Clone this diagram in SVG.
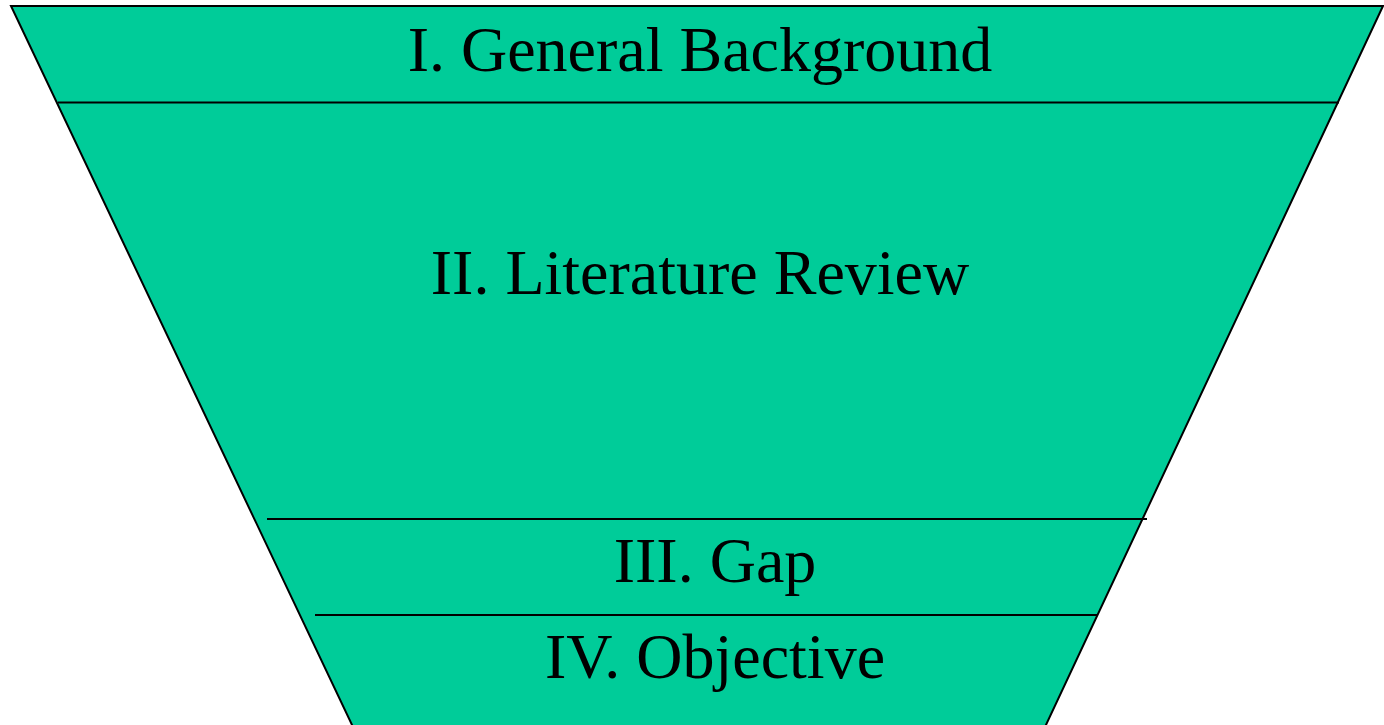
<svg xmlns="http://www.w3.org/2000/svg" width="1384" height="725" viewBox="0 0 1384 725">
<style>
.band{fill:#00CC99;stroke:none}
.edge{fill:none;stroke:#000;stroke-width:2}
.lbl{font-family:"Liberation Serif","Times New Roman",serif;font-size:64px;fill:#000;text-anchor:middle}
</style>
<rect width="1384" height="725" fill="#fff"/>
<g id="funnel">
<polygon class="band" points="11,6 1383,6 1045,727 353,727"/>
</g>
<g id="node-background"><text class="lbl" x="700" y="71">I. General Background</text></g>
<g id="node-literature"><text class="lbl" x="700" y="294">II. Literature Review</text></g>
<g id="node-gap"><text class="lbl" x="715" y="582">III. Gap</text></g>
<g id="node-objective"><text class="lbl" x="715" y="678">IV. Objective</text></g>
<g id="connectors">
<polyline class="edge" points="353,727 11,6 1383,6 1045,727"/>
<line class="edge" x1="58" y1="102.5" x2="1339" y2="102.5"/>
<line class="edge" x1="267" y1="519" x2="1147" y2="519"/>
<line class="edge" x1="315" y1="615" x2="1098" y2="615"/>
</g>
</svg>
